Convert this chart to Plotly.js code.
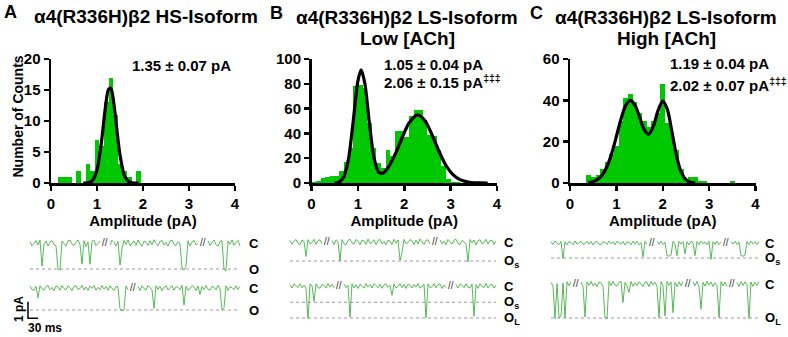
<!DOCTYPE html>
<html><head><meta charset="utf-8">
<script src="https://cdn.plot.ly/plotly-3.0.1.min.js"></script>
<style>html,body{margin:0;padding:0;background:#fff}</style>
</head><body><div id="chart" style="width:788px;height:337px"></div>
<script>
// ---------------- DATA ----------------
// Histograms: amplitude bin centres (pA) and counts
const ampA = [0.2,0.3,0.4,0.5,0.6,0.7,0.8,0.9,1.0,1.1,1.2,1.3,1.4,1.5,1.6,1.7,1.8,1.9];
const countsA = [1,1,1,0,2,0,3,2,7,6,13,17,11,3,2,1,0,2];

const ampB = [0.05,0.15,0.25,0.35,0.45,0.55,0.65,0.75,0.85,0.95,1.05,1.15,1.25,1.35,1.45,1.55,1.65,1.75,1.85,1.95,2.05,2.15,2.25,2.35,2.45,2.55,2.65,2.75,2.85,2.95,3.05,3.15];
const countsB = [1,2,4,5,6,6,10,17,28,78,79,77,48,28,16,12,27,22,42,42,37,54,59,59,51,39,38,27,14,3,1,1];

const ampC = [0.4,0.5,0.6,0.7,0.8,0.9,1.0,1.1,1.2,1.3,1.4,1.5,1.6,1.7,1.8,1.9,2.0,2.1,2.2,2.3,2.4,2.5,2.6,2.7,2.8,2.9,3.0,3.1,3.2,3.3,3.4,3.5];
const countsC = [4,3,4,7,10,14,18,30,41,43,39,34,30,27,30,34,48,29,24,16,7,2,3,3,1,1,0,0,0,0,0,1];

// Gaussian fit curves
const fitAx = [0.7,0.8,0.9,1.0,1.1,1.15,1.2,1.25,1.3,1.35,1.4,1.45,1.5,1.6,1.7,1.8,1.9];
const fitAy = [0,0.04,0.4,2.1,6.8,10.1,13.2,15.1,15.3,13.7,10.7,7.4,4.5,1.1,0.2,0,0];
const fitBx = [0.5,0.6,0.7,0.8,0.9,1.0,1.07,1.15,1.25,1.35,1.45,1.55,1.65,1.8,1.95,2.1,2.29,2.45,2.6,2.75,2.9,3.05,3.2,3.4,3.6,3.8];
const fitBy = [0.1,0.9,5.3,19.9,49.9,82.2,91.2,80.2,47.5,20,8.7,8.1,12.3,22.9,36.1,48.2,55,50.1,38.7,25.4,14.1,6.7,2.7,0.6,0.1,0];
const fitCx = [0.4,0.5,0.6,0.7,0.8,0.9,1.0,1.1,1.2,1.3,1.4,1.5,1.6,1.7,1.8,1.9,2.0,2.1,2.2,2.3,2.4,2.5,2.6,2.7];
const fitCy = [0.2,0.7,1.8,4,8.1,14.4,22.5,31,37.5,40,37.7,31.9,25.8,23.6,27.6,35.1,39.6,35.5,24.5,12.8,5.1,1.6,0.4,0.1];

const statA = ['1.35 ± 0.07 pA'];
const statB = ['1.05 ± 0.04 pA', '2.06 ± 0.15 pA'];
const statC = ['1.19 ± 0.04 pA', '2.02 ± 0.07 pA'];

// Single-channel recordings: segments (separated by //) of current in pA, one sample every 6 ms
const traceA1 = [
 [.08,-.14,-.02,.12,-.1,.15,-1.2,-.05,.1,-.16,.04,.13,-.08,-.15,-1.35,-1.4,.1,-.03,-.17,.11,.14,-.06,-.12,.02,.16,-.09,-1.1,.12,-.18,.05,-1.1,.09,.15,-.13,-.02,.1],
 [-.1,.14,.03,-.16,.09,-1.15,-.3,.13,-.07,.16,-.14,.02,.11,-.12,.15,-.05,-.17,.1,.04,-.13,.12,-.09,.17,-.02,-.15,.08,.13,-.11,.03,-.16,.1,.15,-.08,-.13,.06,-.04,-1.3,-1.4,-1.2,.12,-.15,.05,.14,-.1,-.03],
 [.11,-.13,.04,.15,-.09,-.16,.08,.12,-1.35,-1.45,.1,-.07,.16,-.12,.02,.13,-.15]
];
const traceA2 = [
 [.12,-.08,-.15,.1,-.6,.14,-.05,-.13,.09,.16,-.1,.03,-.17,.12,.07,-.14,.15,-.04,-.11,.13,.02,-.16,.1,.14,-.09,-.03,.17,-.12,.06,-.15,.11,-.02,.15,-.13,.04,-.1,.16,-.07,.09,-.14,.13,-.05,-.16,.1,.07,-1.3,-1.4,-1.35,.12,-.1],
 [.09,-.15,.13,-.04,-.12,.16,.02,-.1,-1.25,.14,-.08,.11,-.16,.05,.13,-.12,-.02,.15,-.14,.08,.03,-.11,.16,-1.05,.1,-.13,-.05,.14,.06,-.16,.12,-.4,.09,-.1,.15,-.07,-.14,.11,.04,-.12,.16,-.06,-1.35,-1.2,.13,-.15,.08,.02,-.11,.14,-.09,.1]
];
const traceB1 = [
 [.1,-.12,.05,.14,-.09,-.15,.11,.03,-.8,.13,-.1,-.04,.15,-.13,.08,.12,-.1],
 [.07,-.14,.12,.02,-1.05,.13,-.1,-.16,.09,.15,-.05,-.12,.14,.04,-.15,.1,.06,-.13,.16,-.08,-.02,.12,-.15,.09,.14,-.11,.03,-.16,.1,.05,-.13,.15,-.07,.11,-1.0,-.6,.14,-.09,-.04,.13,.08,-.15,.1,-.12,.16,.01,-.14,.09,.12,-.1],
 [.12,-.1,.05,-.15,.14,.03,-.12,.1,.15,-.08,-.14,.09,.02,-.13,-1.1,.14,-.06,.11,-.16,.07,.13,-.1,-.03,.15,-.12,.08,.1,-.14,.05]
];
const traceB2 = [
 [.09,-.13,.14,.02,-.1,.15,-.12,.06,-.16,-2.1,.12,.03,-1.0,.14,-.09,-.15,.1,.05,-.13,.16,-.07,.11,-.12],
 [.13,-.1,.05,-2.0,.14,-.12,.08,-.16,.11,.02,-.14,.15,-.06,.1,-.13,.16,.03,-.11,.12,-.15,.07,.14,-.09,.04,-.6,.13,-.12,-.03,.15,-.1,.09,-.16,.12,.05,-.13,.1,-.07,.16,-.14,.02,.11,-2.05,.13,-.1,-.05,.15,-.12,.08,.14,-.16,.06,-.09],
 [.1,-.14,.13,.04,-.11,.15,-.07,-.13,.12,-1.95,.09,-.15,.14,-.02,-.1,.16,-.12,.07,.11,-.14,.05]
];
const traceC1 = [
 [.1,-.13,.15,-.04,-.12,.13,-1.2,.08,-.15,.11,.04,-.14,.16,-.09,.02,.14,-.12,-.05,.15,-.1,.12,-.16,.07,.13,-.08,-.14,.1,.05,-.12,.16,-.06,.11,-.15,.14,.02,-.11,.13,-.16,.09,.06,-.13,.15,-.07,.12,-.14,.03,-1.1,.13,-.1],
 [.12,-.1,.15,-.13,.06,-1.0,-1.05,-.95,.13,-.12,-1.0,.14,-.08,.11,-.85,.1,-.15,.13,.02,-1.0,.12,-.14,.15,-.06,.09,-.13,.14,-1.3,.1,-.11,.15,-.12,.07],
 [.11,-.09,.14,-.13,.08,-1.0,-1.05,-.95,.12,-.14,.15,-.06,.1,-.13,.12]
];
const traceC2 = [
 [.1,-.12,-2.05,.02,-2.0,-1.9,.05,-2.0,.13,-.1,.14],
 [.12,-.14,-1.95,.13,-.08,.15,-.11,.04,-.16,.12,.07,-.13,-2.0,-2.05,.14,-.1,.16,-.06,-.13,.11,.15,-1.1,.09,-.12,-.5,.15,-.14,.06,-.1,.13,.02,-.15,.12,.1,-.16,.14,-.05,.11,-.13,-2.0,.14,-.1,-1.9,.16,-.08,.12,-1.7,.09,-.15,.13,-.1,.15],
 [.13,-.11,.15,-.14,-1.5,.1,-.13,.16,-.07,.12,-.15,.08,-.1,-2.0,.14,-.12,.1,-.15],
 [.11,-.15,.14,-.09,.13,-.06,-2.05,.12,-.14,.1,-.08,.15]
];
// open levels (pA) and their names per row
const levelsA1 = [-1.35], namesA1 = ['O'];
const levelsA2 = [-1.35], namesA2 = ['O'];
const levelsB1 = [-1.05], namesB1 = ['O<sub>s</sub>'];
const levelsB2 = [-1.05, -2.06], namesB2 = ['O<sub>s</sub>', 'O<sub>L</sub>'];
const levelsC1 = [-1.19], namesC1 = ['O<sub>s</sub>'];
const levelsC2 = [-2.02], namesC2 = ['O<sub>L</sub>'];
const scaleBar = {pA: 1, ms: 30};

// ---------------- LAYOUT / STYLE ----------------
const W = 788, H = 337;
const fxp = p => p / W, fyp = p => 1 - p / H;
const FONT = 'Liberation Sans, Arial, sans-serif';
const GREEN = 'rgb(0,200,0)';
const TRACE_GREEN = 'rgba(45,170,45,0.8)';
const DT = 6, GAP = 4, MS_PER_PX = 3;

const data = [];
const layout = {
  width: W, height: H, margin: {l:0, r:0, t:0, b:0},
  paper_bgcolor: '#fff', plot_bgcolor: 'rgba(0,0,0,0)',
  showlegend: false, bargap: 0,
  font: {family: FONT, color: '#000'},
  annotations: []
};

const hist = [
  {x: ampA, y: countsA, fx: fitAx, fy: fitAy, left: 51, right: 235, ymax: 20, dtick: 5},
  {x: ampB, y: countsB, fx: fitBx, fy: fitBy, left: 311.5, right: 497, ymax: 100, dtick: 20},
  {x: ampC, y: countsC, fx: fitCx, fy: fitCy, left: 570, right: 755.5, ymax: 60, dtick: 20}
];
const tickFont = {family: FONT, size: 15, weight: 'bold', color: '#000'};
hist.forEach((h, k) => {
  const id = k === 0 ? '' : String(k + 1);
  data.push({type: 'bar', x: h.x, y: h.y, width: 0.1, xaxis: 'x' + id, yaxis: 'y' + id,
    marker: {color: GREEN, line: {width: 0}}, hoverinfo: 'skip'});
  data.push({type: 'scatter', mode: 'lines', x: h.fx, y: h.fy, xaxis: 'x' + id, yaxis: 'y' + id,
    line: {color: '#000', width: 3.2, shape: 'spline', smoothing: 0.8}, hoverinfo: 'skip'});
  layout['xaxis' + id] = {domain: [fxp(h.left), fxp(h.right)], range: [0, 4], anchor: 'y' + id,
    tickvals: [0,1,2,3,4], ticks: 'outside', ticklen: 5, tickwidth: 2.5, tickcolor: '#000',
    showline: true, linewidth: 2.5, linecolor: '#000', showgrid: false, zeroline: false,
    tickfont: tickFont, fixedrange: true,
    title: {text: 'Amplitude (pA)', font: {family: FONT, size: 15, weight: 'bold'}, standoff: 5}};
  layout['yaxis' + id] = {domain: [fyp(183), fyp(59)], range: [0, h.ymax], anchor: 'x' + id,
    dtick: h.dtick, ticks: 'outside', ticklen: 5, tickwidth: 2.5, tickcolor: '#000',
    showline: true, linewidth: 2.5, linecolor: '#000', showgrid: false, zeroline: false,
    tickfont: tickFont, fixedrange: true, title: {text: ''}};
});

function ann(text, px, py, size, opts) {
  layout.annotations.push(Object.assign({text: text, x: fxp(px), y: fyp(py), xref: 'paper', yref: 'paper',
    showarrow: false, xanchor: 'center', yanchor: 'middle', font: {family: FONT, size: size, color: '#000'}}, opts || {}));
}
// y-axis title of panel A
ann('<b>Number of Counts</b>', 17.5, 117, 14, {textangle: -90});
// panel letters and titles
ann('<b>A</b>', 10, 12, 18);
ann('<b>B</b>', 276, 13, 18);
ann('<b>C</b>', 536, 13, 18);
ann('<b>α4(R336H)β2 HS-Isoform</b>', 146, 17, 19);
ann('<b>α4(R336H)β2 LS-Isoform</b>', 407, 18, 19);
ann('<b>Low [ACh]</b>', 407, 38, 19);
ann('<b>α4(R336H)β2 LS-Isoform</b>', 666, 18, 19);
ann('<b>High [ACh]</b>', 666, 38, 19);
// fit statistics
ann('<b>' + statA[0] + '</b>', 130, 65, 15, {xanchor: 'left'});
ann('<b>' + statB[0] + '</b>', 382, 64, 15, {xanchor: 'left'});
ann('<b>' + statB[1] + '<sup>‡‡‡</sup></b>', 382, 82, 15, {xanchor: 'left'});
ann('<b>' + statC[0] + '</b>', 668, 63, 15, {xanchor: 'left'});
ann('<b>' + statC[1] + '<sup>‡‡‡</sup></b>', 668, 85, 15, {xanchor: 'left'});

// ---------------- TRACES ----------------
const panelLeft = [30, 290, 551];
const labelX = [247, 502, 763];
const rows = [
  {segs: traceA1, lv: levelsA1, nm: namesA1, p: 0, closed: 243, ref: 269, top: 232, bot: 277},
  {segs: traceA2, lv: levelsA2, nm: namesA2, p: 0, closed: 288, ref: 310, top: 278, bot: 322, bar: true},
  {segs: traceB1, lv: levelsB1, nm: namesB1, p: 1, closed: 242, ref: 261, top: 232, bot: 268},
  {segs: traceB2, lv: levelsB2, nm: namesB2, p: 1, closed: 286, ref: 318, top: 275, bot: 326},
  {segs: traceC1, lv: levelsC1, nm: namesC1, p: 2, closed: 243, ref: 258, top: 232, bot: 266},
  {segs: traceC2, lv: levelsC2, nm: namesC2, p: 2, closed: 284, ref: 318, top: 273, bot: 326}
];
function buildRow(segs) {
  const x = [], y = [], gaps = [];
  let i = 0;
  segs.forEach((s, k) => {
    if (k > 0) {
      gaps.push((i + (GAP - 1) / 2) * DT);
      for (let g = 0; g < GAP; g++) { x.push(i * DT); y.push(null); i++; }
    }
    s.forEach(v => { x.push(i * DT); y.push(v); i++; });
  });
  return {x, y, gaps, end: (i - 1) * DT};
}
rows.forEach((r, k) => {
  const n = k + 4;
  const xa = 'x' + n, ya = 'y' + n;
  const refVal = r.lv[r.lv.length - 1];
  const val = p => refVal * (p - r.closed) / (r.ref - r.closed);
  const left = panelLeft[r.p];
  layout['xaxis' + n] = {domain: [fxp(left - 12), fxp(left + 215)], range: [-12 * MS_PER_PX, 215 * MS_PER_PX],
    visible: false, anchor: ya, fixedrange: true};
  layout['yaxis' + n] = {domain: [fyp(r.bot), fyp(r.top)], range: [val(r.bot), val(r.top)],
    visible: false, anchor: xa, fixedrange: true};
  const row = buildRow(r.segs);
  r.lv.forEach(l => {
    data.push({type: 'scatter', mode: 'lines', x: [0, row.end], y: [l, l], xaxis: xa, yaxis: ya,
      line: {color: '#9a9a9a', width: 1, dash: 'dot'}, hoverinfo: 'skip'});
  });
  data.push({type: 'scatter', mode: 'lines', x: row.x, y: row.y, xaxis: xa, yaxis: ya, connectgaps: false,
    line: {color: TRACE_GREEN, width: 1}, hoverinfo: 'skip'});
  row.gaps.forEach(g => {
    layout.annotations.push({text: '//', x: g, y: 0.05, xref: xa, yref: ya, showarrow: false,
      font: {family: FONT, size: 10, color: '#333'}, xanchor: 'center', yanchor: 'middle'});
  });
  layout.annotations.push({text: '<b>C</b>', x: fxp(labelX[r.p]), y: 0, xref: 'paper', yref: ya,
    showarrow: false, xanchor: 'left', yanchor: 'middle', font: {family: FONT, size: 13, color: '#000'}});
  r.lv.forEach((l, j) => {
    layout.annotations.push({text: '<b>' + r.nm[j] + '</b>', x: fxp(labelX[r.p]), y: l, xref: 'paper', yref: ya,
      showarrow: false, xanchor: 'left', yanchor: 'middle', font: {family: FONT, size: 13, color: '#000'}});
  });
  if (r.bar) {
    const bx = -2 * MS_PER_PX, by = -1.85;
    data.push({type: 'scatter', mode: 'lines', x: [bx, bx, bx + scaleBar.ms], y: [by + scaleBar.pA, by, by],
      xaxis: xa, yaxis: ya, line: {color: '#000', width: 1.5}, hoverinfo: 'skip'});
  }
});
ann('<b>' + scaleBar.pA + ' pA</b>', 19, 309, 12, {textangle: -90});
ann('<b>' + scaleBar.ms + ' ms</b>', 45, 328, 12);

Plotly.newPlot('chart', data, layout, {displayModeBar: false, staticPlot: true});
</script>
</body></html>
